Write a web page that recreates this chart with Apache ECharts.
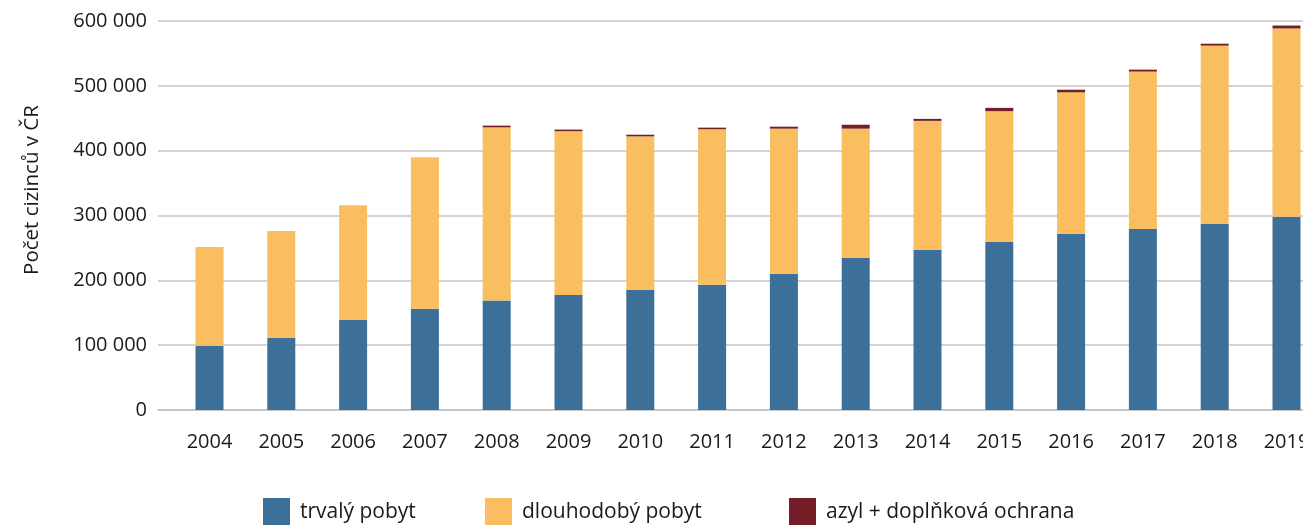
<!DOCTYPE html>
<html>
<head>
<meta charset="utf-8">
<script src="https://cdn.jsdelivr.net/npm/echarts@6/dist/echarts.min.js"></script>
<style>
  html, body { margin: 0; padding: 0; background: #fff; }
  #chart { width: 1303px; height: 525px; }
</style>
</head>
<body>
<div id="chart"></div>
<script>
var years = ['2004', '2005', '2006', '2007', '2008', '2009', '2010', '2011', '2012', '2013', '2014', '2015', '2016', '2017', '2018', '2019'];
// počty cizinců podle typu pobytu
var trvaly = [99000, 111500, 139000, 156000, 169000, 177500, 185000, 193000, 210000, 235000, 247000, 259000, 272000, 279000, 287000, 298000];
var dlouhodoby = [152500, 164500, 177000, 234000, 267000, 252500, 237000, 240000, 224000, 199000, 199000, 202000, 218000, 243000, 275000, 290500];
var azyl = [0, 0, 0, 0, 2600, 2500, 2600, 2500, 3000, 6000, 3000, 5000, 4000, 3000, 3000, 4500];
var yTicks = [0, 100000, 200000, 300000, 400000, 500000, 600000];

var font = "Open Sans";
var chartDom = document.getElementById('chart');
var myChart = echarts.init(chartDom);

function fmt(v) {
    return String(v).replace(/\B(?=(\d{3})+(?!\d))/g, ' ');
}

var legendText = { fontFamily: font, fontSize: 21, color: '#1a1a1a', padding: [0, 0, 0, 5] };

var option = {
    animation: false,
    textStyle: { fontFamily: font },
    grid: [
        // mřížka s popisky osy y
        { left: 158, top: 21, bottom: 115, right: 0, containLabel: false },
        // sloupce (poslední pásmo přesahuje okraj)
        { left: 173.6, top: 21, bottom: 115, right: -19.4, outerBoundsMode: 'none', containLabel: false }
    ],
    graphic: [{
        type: 'text',
        x: 32, y: 190,
        rotation: Math.PI / 2,
        style: {
            text: 'Počet cizinců v ČR',
            fontFamily: font, fontSize: 20.5, fill: '#1a1a1a',
            align: 'center', verticalAlign: 'middle'
        }
    }],
    legend: [
        { data: ['trvalý pobyt'], left: 258, top: 493, itemWidth: 27, itemHeight: 28, textStyle: legendText, icon: 'rect' },
        { data: ['dlouhodobý pobyt'], left: 480, top: 493, itemWidth: 27, itemHeight: 28, textStyle: legendText, icon: 'rect' },
        { data: ['azyl + doplňková ochrana'], left: 784, top: 493, itemWidth: 27, itemHeight: 28, textStyle: legendText, icon: 'rect' }
    ],
    xAxis: [
        {
            gridIndex: 0,
            type: 'value',
            min: 0, max: 1,
            splitLine: { show: false },
            axisTick: { show: false },
            axisLabel: { show: false },
            axisLine: { show: true, lineStyle: { color: '#c4c4c4', width: 1.5 } }
        },
        {
            gridIndex: 1,
            type: 'category',
            data: years,
            splitLine: { show: false },
            axisTick: { show: false },
            axisLine: { show: false },
            axisLabel: {
                margin: 22,
                interval: 0,
                fontFamily: font, fontSize: 20, color: '#1a1a1a'
            }
        }
    ],
    yAxis: [
        {
            gridIndex: 0,
            type: 'value',
            min: 0,
            max: 600000,
            interval: 100000,
            axisLine: { show: false },
            axisTick: { show: false },
            splitLine: { lineStyle: { color: '#c4c4c4', width: 1.5 } },
            axisLabel: {
                margin: 11,
                fontFamily: font, fontSize: 20, color: '#1a1a1a',
                formatter: function (v) { return fmt(v); }
            }
        },
        {
            gridIndex: 1,
            type: 'value',
            min: 0,
            max: 600000,
            interval: 100000,
            show: false,
            splitLine: { show: false }
        }
    ],
    series: [
        { name: 'trvalý pobyt', type: 'bar', stack: 'a', barWidth: 28, xAxisIndex: 1, yAxisIndex: 1, itemStyle: { color: '#3d7099' }, data: trvaly },
        { name: 'dlouhodobý pobyt', type: 'bar', stack: 'a', barWidth: 28, xAxisIndex: 1, yAxisIndex: 1, itemStyle: { color: '#f9be5f' }, data: dlouhodoby },
        { name: 'azyl + doplňková ochrana', type: 'bar', stack: 'a', barWidth: 28, xAxisIndex: 1, yAxisIndex: 1, itemStyle: { color: '#741f27' }, data: azyl }
    ]
};

option && myChart.setOption(option);
</script>
</body>
</html>
